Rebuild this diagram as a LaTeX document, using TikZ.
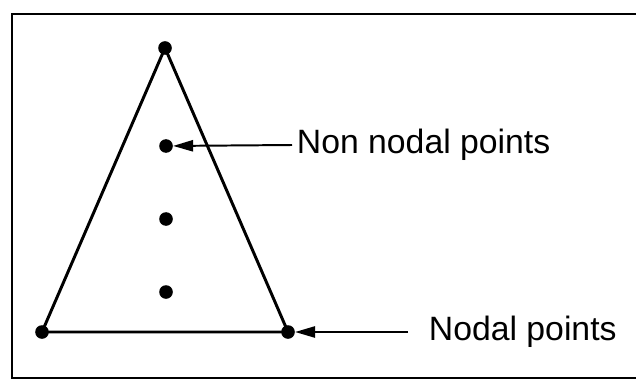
\documentclass[tikz,border=0pt]{standalone}
\usepackage{fontspec}
\setmainfont{Liberation Sans}
\usetikzlibrary{arrows.meta}

\begin{document}
\begin{tikzpicture}[
  x=0.025cm, y=-0.025cm,
  dot/.style={circle,fill=black,inner sep=0pt,minimum size=0.34cm},
  edge/.style={line width=2.1pt},
  flow/.style={-{Triangle[length=5mm,width=2.8mm]},line width=1.4pt},
  label/.style={anchor=west,font=\fontsize{24}{28}\selectfont},
  every node/.append style={text=black}
]
  \useasboundingbox (0,0) rectangle (636,380);
  % frame
  \draw[line width=1.4pt] (636,14) -- (12,14) -- (12,378) -- (636,378);

  % nodal points
  \node[dot] (apex) at (165,48) {};
  \node[dot] (left) at (42,332) {};
  \node[dot] (right) at (288,332) {};
  % non nodal points
  \node[dot] (nn1) at (166,146) {};
  \node[dot] (nn2) at (166,219) {};
  \node[dot] (nn3) at (166,292) {};

  \draw[edge] (apex.center) -- (left.center) -- (right.center) -- cycle;

  \node[label] (nnlabel) at (292,145) {Non nodal points};
  \node[label] (ndlabel) at (424,332) {Nodal points};

  \draw[flow] (nnlabel.west) -- (nn1);
  \draw[flow,shorten <=0.4cm] (ndlabel.west) -- (right);
\end{tikzpicture}
\end{document}
